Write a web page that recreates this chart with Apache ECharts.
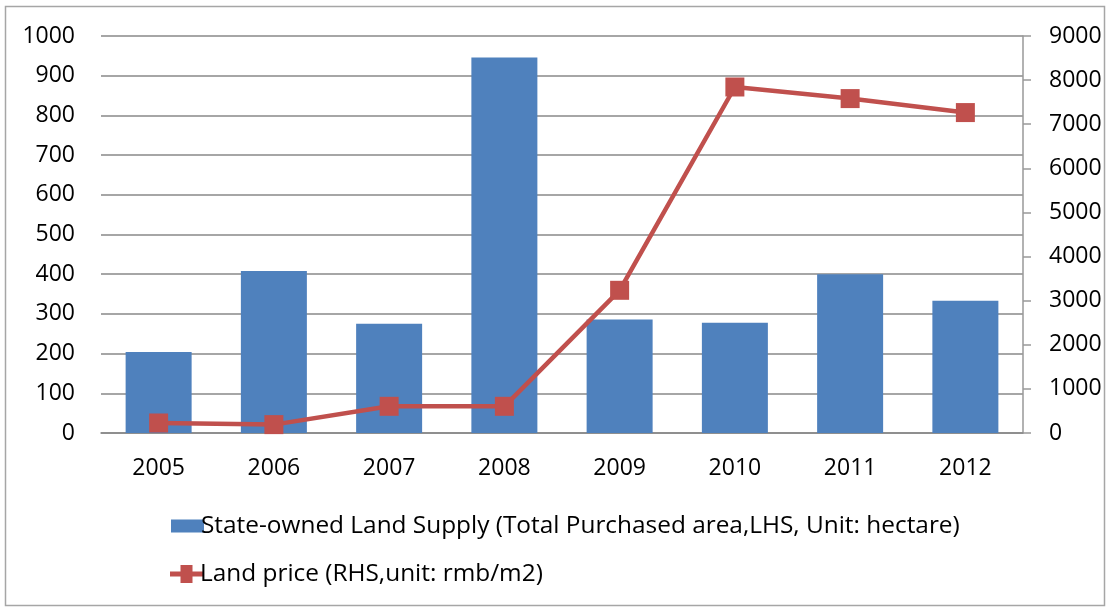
<!DOCTYPE html>
<html><head><meta charset="utf-8">
<script src="https://cdn.jsdelivr.net/npm/echarts@6/dist/echarts.min.js"></script>
<style>html,body{margin:0;padding:0;background:#fff}#c{width:1109px;height:608px}</style>
</head><body><div id="c"></div>
<script>
const years = ['2005','2006','2007','2008','2009','2010','2011','2012'];
const landSupply = [204, 408, 275, 946, 286, 278, 400, 333];
const landPrice = [227, 190, 605, 605, 3235, 7844, 7581, 7264];
const leftTicks = [0, 1000, 100];
const rightTicks = [0, 9000, 1000];
const barName = 'State-owned Land Supply (Total Purchased area,LHS, Unit: hectare)';
const lineName = 'Land price (RHS,unit: rmb/m2)';

const FONT = 'Open Sans';
const plain = v => String(v);
const chart = echarts.init(document.getElementById('c'), null, {renderer:'canvas'});
chart.setOption({
  animation:false,
  backgroundColor:'#fff',
  graphic:[{type:'rect',shape:{x:5.5,y:6.5,width:1099,height:599},style:{fill:null,stroke:'#a6a6a6',lineWidth:1.5},silent:true}],
  grid:{left:101,right:86,top:36,bottom:175},
  legend:[
    {data:[barName],orient:'vertical',left:166,top:509,itemWidth:33,itemHeight:13,itemGap:0,
     textStyle:{fontFamily:FONT,fontSize:24.4,color:'#000',padding:[0,0,0,-8]},icon:'rect'},
    {data:[lineName],orient:'vertical',left:165,top:557,itemWidth:33,itemHeight:18,itemGap:0,
     icon:'path://M0,6.5H10.5V0H22.5V6.5H33V11.5H22.5V18H10.5V11.5H0Z',
     itemStyle:{color:'#c0504d'},
     textStyle:{fontFamily:FONT,fontSize:24.4,color:'#000',padding:[0,0,0,-8]}}
  ],
  xAxis:{type:'category',data:years,
    axisLine:{lineStyle:{color:'#888',width:1.5}},axisTick:{show:false},
    axisLabel:{fontFamily:FONT,fontSize:23,color:'#000',margin:24}},
  yAxis:[
    {type:'value',min:leftTicks[0],max:leftTicks[1],interval:leftTicks[2],
     axisLine:{show:false},axisTick:{show:false},
     splitLine:{lineStyle:{color:'#888',width:1.5}},
     axisLabel:{fontFamily:FONT,fontSize:23,color:'#000',margin:26,formatter:plain}},
    {type:'value',min:rightTicks[0],max:rightTicks[1],interval:rightTicks[2],
     axisLine:{show:true,lineStyle:{color:'#999',width:1.5}},
     axisTick:{show:true,length:8,lineStyle:{color:'#999',width:1.5}},
     splitLine:{show:false},
     axisLabel:{fontFamily:FONT,fontSize:23,color:'#000',margin:26,formatter:plain}}
  ],
  series:[
    {name:barName,type:'bar',data:landSupply,barWidth:66,itemStyle:{color:'#4f81bd'},yAxisIndex:0},
    {name:lineName,type:'line',data:landPrice,yAxisIndex:1,symbol:'rect',symbolSize:19,
     lineStyle:{color:'#c0504d',width:4.5},itemStyle:{color:'#c0504d'}}
  ]
});
</script></body></html>
